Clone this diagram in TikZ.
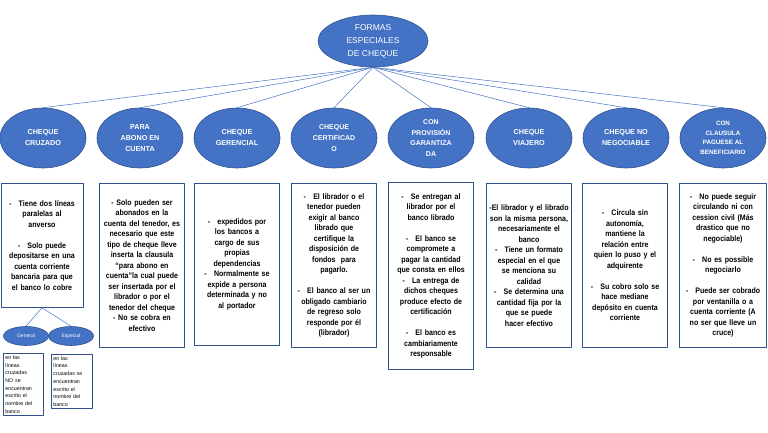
\documentclass[tikz,border=0pt]{standalone}
\usepackage{fontspec}
\setmainfont{Liberation Sans}
\newfontfamily\cajafont[FakeStretch=0.88]{Liberation Sans}
\usetikzlibrary{shapes.geometric}
\definecolor{azul}{HTML}{4472C4}
\definecolor{bordeazul}{HTML}{2F528F}
\newcommand{\guion}{-\hspace{0.9em}}
\begin{document}
\begin{tikzpicture}[x=1pt, y=-1pt, line join=round, line cap=round,
	raiz/.style={ellipse, fill=azul, draw=bordeazul, line width=0.6pt, text=white, minimum width=110pt, minimum height=52pt, inner sep=0pt, align=center, font=\fontsize{8.5}{13}\selectfont},
	forma/.style={ellipse, fill=azul, draw=bordeazul, line width=0.6pt, text=white, minimum width=86pt, minimum height=60pt, inner sep=0pt, align=center, font=\bfseries\fontsize{7.2}{11}\selectfont},
	tipo/.style={ellipse, fill=azul, draw=bordeazul, line width=0.6pt, text=white, minimum width=45pt, minimum height=19pt, inner sep=0pt, font=\fontsize{5}{6}\selectfont},
	caja/.style={draw=bordeazul, line width=0.8pt, fill=white, anchor=north, text width=79pt, inner sep=3pt, align=center, font=\cajafont\bfseries\fontsize{8}{10.5}\selectfont},
	nota/.style={draw=bordeazul, line width=0.8pt, anchor=north west, text width=36pt, inner sep=2pt, align=left, font=\fontsize{5.3}{7.7}\selectfont},
	rama/.style={draw=azul, line width=0.5pt}]
	\useasboundingbox (0,0) rectangle (768,433);
	% Nodo principal
	\node[raiz] (raiz) at (373,41) {FORMAS\\ESPECIALES\\DE CHEQUE};
	% Formas especiales
	\node[forma] (e1) at (43,138) {CHEQUE\\CRUZADO};
	\node[forma] (e2) at (140,138) {PARA\\ABONO EN\\CUENTA};
	\node[forma] (e3) at (237,138) {CHEQUE\\GERENCIAL};
	\node[forma, font=\bfseries\fontsize{7}{11}\selectfont] (e4) at (334,138) {CHEQUE\\CERTIFICAD\\O};
	\node[forma, font=\bfseries\fontsize{7}{10.5}\selectfont] (e5) at (431,138) {CON\\PROVISIÓN\\GARANTIZA\\DA};
	\node[forma] (e6) at (529,138) {CHEQUE\\VIAJERO};
	\node[forma] (e7) at (626,138) {CHEQUE NO\\NEGOCIABLE};
	\node[forma, font=\bfseries\fontsize{6.3}{9.5}\selectfont] (e8) at (723,138) {CON\\CLAUSULA\\PAGUESE AL\\BENEFICIARIO};
	% Ramas desde el nodo principal
	\draw[rama] (raiz.south) -- (e1.north);
	\draw[rama] (raiz.south) -- (e2.north);
	\draw[rama] (raiz.south) -- (e3.north);
	\draw[rama] (raiz.south) -- (e4.north);
	\draw[rama] (raiz.south) -- (e5.north);
	\draw[rama] (raiz.south) -- (e6.north);
	\draw[rama] (raiz.south) -- (e7.north);
	\draw[rama] (raiz.south) -- (e8.north);
	% Cajas de texto
	\node[caja, text width=76pt, minimum height=124pt] (c1) at (42,183) {\guion Tiene dos líneas\\paralelas al\\anverso\\[10.5pt]\guion Solo puede\\depositarse en una\\cuenta corriente\\bancaria para que\\el banco lo cobre};
	\node[caja, minimum height=164pt] (c2) at (142,183) {- Solo pueden ser\\abonados en la\\cuenta del tenedor, es\\necesario que este\\tipo de cheque lleve\\inserta la clausula\\“para abono en\\cuenta”la cual puede\\ser insertada por el\\librador o por el\\tenedor del cheque\\- No se cobra en\\efectivo};
	\node[caja, minimum height=162pt] (c3) at (237,183) {\guion expedidos por\\los bancos a\\cargo de sus\\propias\\dependencias\\\guion Normalmente se\\expide a persona\\determinada y no\\al portador};
	\node[caja, minimum height=164pt] (c4) at (334,183) {\guion El librador o el\\tenedor pueden\\exigir al banco\\librado que\\certifique la\\disposición de\\fondos\ \ para\\pagarlo.\\[10.5pt]\guion El banco al ser un\\obligado cambiario\\de regreso solo\\responde por él\\(librador)};
	\node[caja, minimum height=187pt] (c5) at (431,182) {\guion Se entregan al\\librador por el\\banco librado\\[10.5pt]\guion El banco se\\compromete a\\pagar la cantidad\\que consta en ellos\\\guion La entrega de\\dichos cheques\\produce efecto de\\certificación\\[10.5pt]\guion El banco es\\cambiariamente\\responsable};
	\node[caja, text width=81pt, inner sep=2pt, minimum height=164pt] (c6) at (529,183) {-El librador y el librado\\son la misma persona,\\necesariamente el\\banco\\\guion Tiene un formato\\especial en el que\\se menciona su\\calidad\\\guion Se determina una\\cantidad fija por la\\que se puede\\hacer efectivo};
	\node[caja, minimum height=164pt] (c7) at (625,183) {\guion Circula sin\\autonomía,\\mantiene la\\relación entre\\quien lo puso y el\\adquirente\\[10.5pt]\guion Su cobro solo se\\hace mediane\\depósito en cuenta\\corriente};
	\node[caja, text width=81pt, minimum height=164pt] (c8) at (723,183) {\guion No puede seguir\\circulando ni con\\cession civil (Más\\drastico que no\\negociable)\\[10.5pt]\guion No es possible\\negociarlo\\[10.5pt]\guion Puede ser cobrado\\por ventanilla o a\\cuenta corriente (A\\no ser que lleve un\\cruce)};
	% Tipos de cheque cruzado
	\node[tipo] (general) at (26,336) {General};
	\node[tipo] (especial) at (71,336) {Especial};
	\draw[rama] (c1.south) -- (general.north);
	\draw[rama] (c1.south) -- (especial.north);
	\node[nota, minimum height=62pt] (n1) at (3,353) {en las\\líneas\\cruzadas\\NO se\\encuentran\\escrito el\\nombre del\\banco};
	\node[nota, text width=37pt, minimum height=54pt] (n2) at (51,354) {en las\\líneas\\cruzadas se\\encuentran\\escrito el\\nombre del\\banco};
\end{tikzpicture}
\end{document}
